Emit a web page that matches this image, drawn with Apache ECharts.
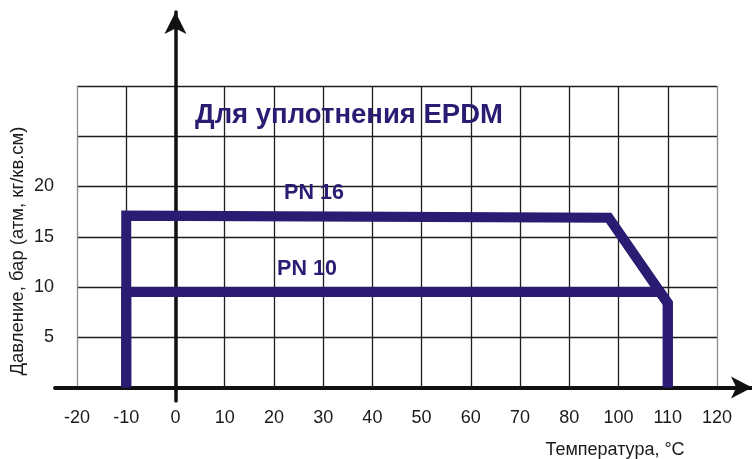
<!DOCTYPE html>
<html>
<head>
<meta charset="utf-8">
<script src="https://cdn.jsdelivr.net/npm/echarts@6/dist/echarts.min.js"></script>
<style>
html,body{margin:0;padding:0;background:#fff;}
#chart{width:752px;height:459px;}
</style>
</head>
<body>
<div id="chart"></div>
<script>
// ---- data ----
var xTickValues = [-20, -10, 0, 10, 20, 30, 40, 50, 60, 70, 80, 90, 100, 110];
var xTickLabels = ['-20', '-10', '0', '10', '20', '30', '40', '50', '60', '70', '80', '100', '110', '120'];
var yTickLabels = [5, 10, 15, 20];
var pn16 = [[-10, 0], [-10, 17.1], [88, 16.9], [100, 8.4], [100, 0]];
var pn10 = [[-10, 0], [-10, 9.5], [98.4, 9.5], [100, 8.4], [100, 0]];
var titleText = 'Для уплотнения EPDM';
var yName = 'Давление, бар (атм, кг/кв.см)';
var xName = 'Температура, °C';

// ---- layout ----
var W = 752, H = 459;
var g1 = {left: 77, right: 35, top: 86, bottom: 71.5};
var xMin = -20, xMax = 110, yMin = 0, yMax = 30;
var pxX = (W - g1.left - g1.right) / (xMax - xMin);
var pxY = (H - g1.top - g1.bottom) / (yMax - yMin);
var g2 = {left: 55, right: 0, top: 12, bottom: 58};
var x2Min = xMin - (g1.left - g2.left) / pxX;
var x2Max = xMax + (g1.right - g2.right) / pxX;
var y2Min = yMin - (g1.bottom - g2.bottom) / pxY;
var y2Max = yMax + (g1.top - g2.top) / pxY;

var lineColor = '#2b1b72';
var gridColors = xTickValues.map(function (v, i) {
  return (i === 0 || i === xTickValues.length - 1) ? '#8c8c8c' : '#1e1e1e';
});

var chart = echarts.init(document.getElementById('chart'), null, {renderer: 'canvas'});
chart.setOption({
  animation: false,
  backgroundColor: '#fff',
  textStyle: {fontFamily: "'Liberation Sans', Arial, sans-serif"},
  grid: [
    {left: g1.left, right: g1.right, top: g1.top, bottom: g1.bottom},
    {left: g2.left, right: g2.right, top: g2.top, bottom: g2.bottom}
  ],
  xAxis: [
    {
      type: 'value', gridIndex: 0, min: xMin, max: xMax, interval: 10,
      axisLine: {show: false}, axisTick: {show: false},
      axisLabel: {
        margin: 22, fontSize: 18, color: '#1a1a1a',
        fontFamily: "'Liberation Sans', Arial, sans-serif",
        formatter: function (v) {
          var i = xTickValues.indexOf(Math.round(v));
          return i >= 0 ? xTickLabels[i] : '';
        }
      },
      splitLine: {show: true, lineStyle: {color: gridColors, width: 1.3}}
    },
    {
      type: 'value', gridIndex: 1, min: x2Min, max: x2Max,
      axisLine: {show: true, onZero: true, symbol: ['none', 'arrow'], symbolSize: [16.5, 21],
        lineStyle: {color: '#111', width: 4}},
      axisTick: {show: false}, axisLabel: {show: false}, splitLine: {show: false}
    }
  ],
  yAxis: [
    {
      type: 'value', gridIndex: 0, min: yMin, max: yMax, interval: 5,
      axisLine: {show: false}, axisTick: {show: false},
      axisLabel: {
        margin: 23, fontSize: 18, color: '#1a1a1a',
        fontFamily: "'Liberation Sans', Arial, sans-serif",
        formatter: function (v) {
          return yTickLabels.indexOf(Math.round(v)) >= 0 ? String(v) : '';
        }
      },
      splitLine: {show: true, lineStyle: {color: '#1e1e1e', width: 1.3}}
    },
    {
      type: 'value', gridIndex: 1, min: y2Min, max: y2Max,
      axisLine: {show: true, onZero: true, symbol: ['none', 'arrow'], symbolSize: [16.5, 22],
        lineStyle: {color: '#111', width: 3.5}},
      axisTick: {show: false}, axisLabel: {show: false}, splitLine: {show: false}
    }
  ],
  series: [
    {
      name: 'PN 16', type: 'line', xAxisIndex: 0, yAxisIndex: 0, data: pn16,
      showSymbol: false, symbol: 'none', z: 5, clip: false,
      lineStyle: {color: lineColor, width: 10, join: 'miter', cap: 'butt'}
    },
    {
      name: 'PN 10', type: 'line', xAxisIndex: 0, yAxisIndex: 0, data: pn10,
      showSymbol: false, symbol: 'none', z: 5, clip: false,
      lineStyle: {color: lineColor, width: 10, join: 'miter', cap: 'butt'}
    }
  ],
  graphic: [
    {type: 'text', x: 349, y: 115, z: 20, style: {text: titleText, fill: lineColor,
      font: "bold 27.5px 'Liberation Sans', Arial, sans-serif", textAlign: 'center', textVerticalAlign: 'middle'}},
    {type: 'text', x: 314, y: 193, z: 20, style: {text: 'PN 16', fill: lineColor,
      font: "bold 21.5px 'Liberation Sans', Arial, sans-serif", textAlign: 'center', textVerticalAlign: 'middle'}},
    {type: 'text', x: 307, y: 269, z: 20, style: {text: 'PN 10', fill: lineColor,
      font: "bold 21.5px 'Liberation Sans', Arial, sans-serif", textAlign: 'center', textVerticalAlign: 'middle'}},
    {type: 'text', x: 18, y: 251, rotation: Math.PI / 2, z: 20, style: {text: yName, fill: '#1a1a1a',
      font: "18.5px 'Liberation Sans', Arial, sans-serif", textAlign: 'center', textVerticalAlign: 'middle'}},
    {type: 'text', x: 615, y: 450, z: 20, style: {text: xName, fill: '#1a1a1a',
      font: "18px 'Liberation Sans', Arial, sans-serif", textAlign: 'center', textVerticalAlign: 'middle'}}
  ]
});
</script>
</body>
</html>
